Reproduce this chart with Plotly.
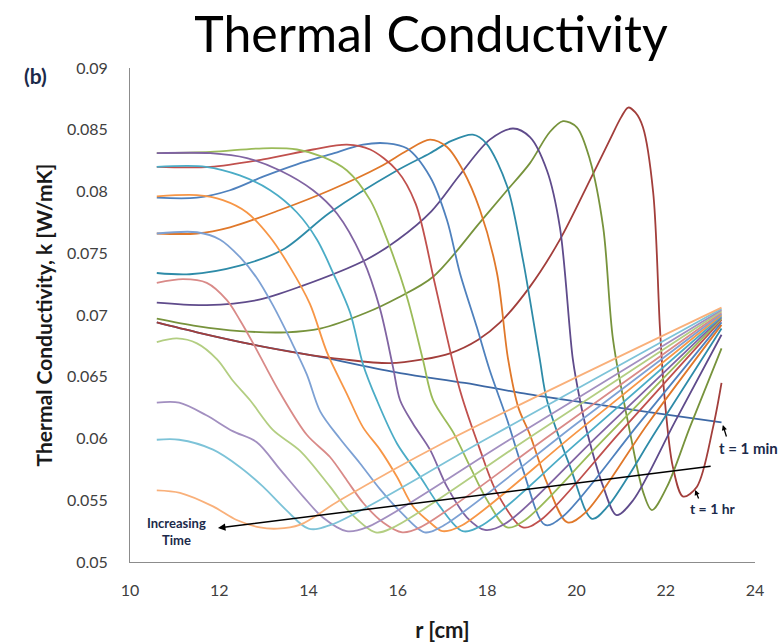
import plotly.graph_objects as go

# ---------------- data ----------------
r1 = [10.6, 11.5, 12.76, 14.26, 16.05, 17.5, 18.74, 20.0, 21.5, 23.25]
k1 = [0.0694, 0.0686, 0.0676, 0.0666, 0.0653, 0.0645, 0.0637, 0.0630, 0.0622, 0.0613]

r2 = [10.6, 11.5, 12.76, 13.81, 14.8, 15.82, 16.56, 17.17, 17.8, 18.29, 18.96, 19.63, 20.3, 20.75, 21.0, 21.16, 21.32, 21.49, 21.72, 21.87, 21.97, 22.16, 22.39, 22.7, 23.06, 23.25]
k2 = [0.0694, 0.0686, 0.0676, 0.0669, 0.0664, 0.0661, 0.0664, 0.0669, 0.0680, 0.0694, 0.0723, 0.0761, 0.0809, 0.0842, 0.0860, 0.0868, 0.0864, 0.0852, 0.0799, 0.0690, 0.0635, 0.0577, 0.0553, 0.0561, 0.0609, 0.0645]

r3 = [10.6, 11.5, 12.46, 13.5, 14.26, 15.3, 16.0, 16.79, 17.84, 18.4, 18.96, 19.4, 19.7, 20.01, 20.3, 20.6, 20.82, 21.2, 21.5, 21.69, 22.03, 22.54, 23.25]
k3 = [0.0697, 0.0691, 0.0687, 0.0686, 0.0689, 0.0702, 0.0714, 0.0731, 0.0775, 0.0799, 0.0823, 0.0848, 0.0857, 0.0852, 0.0826, 0.0771, 0.0680, 0.0605, 0.0556, 0.0542, 0.0561, 0.0609, 0.0673]

r4 = [10.6, 11.72, 12.84, 13.81, 15.3, 16.0, 16.75, 17.4, 18.06, 18.58, 18.96, 19.34, 19.63, 19.92, 20.08, 20.24, 20.6, 20.9, 21.27, 22.2, 23.25]
k4 = [0.0710, 0.0708, 0.0712, 0.0723, 0.0745, 0.0761, 0.0784, 0.0814, 0.0842, 0.0851, 0.0844, 0.0817, 0.0771, 0.0664, 0.0631, 0.0605, 0.0561, 0.0538, 0.0550, 0.0613, 0.0684]

r5 = [10.6, 11.34, 12.46, 13.43, 14.48, 15.98, 16.72, 17.2, 17.68, 17.98, 18.45, 18.8, 18.96, 19.18, 19.34, 19.86, 20.35, 20.7, 21.8, 23.25]
k5 = [0.0734, 0.0733, 0.0740, 0.0753, 0.0783, 0.0817, 0.0831, 0.0841, 0.0846, 0.0839, 0.0804, 0.0745, 0.0712, 0.0664, 0.0631, 0.0577, 0.0535, 0.0545, 0.0607, 0.0689]

r6 = [10.6, 11.5, 12.24, 13.36, 14.48, 15.6, 16.2, 16.72, 17.1, 17.46, 17.84, 18.22, 18.47, 18.7, 18.96, 19.34, 19.8, 20.2, 21.6, 23.25]
k6 = [0.0766, 0.0766, 0.0771, 0.0785, 0.0801, 0.0820, 0.0833, 0.0842, 0.0836, 0.0817, 0.0785, 0.0734, 0.0664, 0.0625, 0.0603, 0.0564, 0.0532, 0.0540, 0.0612, 0.0692]

r7 = [10.6, 11.5, 12.24, 12.98, 13.74, 14.48, 15.22, 15.76, 16.2, 16.72, 17.1, 17.39, 17.77, 18.06, 18.45, 18.8, 19.3, 19.7, 21.4, 23.25]
k7 = [0.0795, 0.0795, 0.0801, 0.0812, 0.0822, 0.0830, 0.0838, 0.0839, 0.0835, 0.0812, 0.0777, 0.0734, 0.0690, 0.0655, 0.0615, 0.0575, 0.0530, 0.0537, 0.0612, 0.0694]

r8 = [10.6, 11.8, 12.98, 14.1, 14.86, 15.38, 15.98, 16.4, 16.8, 17.05, 17.4, 17.84, 18.22, 18.8, 19.2, 21.0, 23.25]
k8 = [0.0820, 0.0820, 0.0826, 0.0834, 0.0838, 0.0834, 0.0817, 0.0790, 0.0730, 0.0690, 0.0638, 0.0591, 0.0556, 0.0528, 0.0534, 0.0606, 0.0696]

r9 = [10.6, 11.8, 12.98, 13.74, 14.32, 14.86, 15.38, 15.76, 16.2, 16.56, 16.79, 17.24, 17.62, 18.0, 18.45, 18.85, 20.5, 23.25]
k9 = [0.0831, 0.0832, 0.0835, 0.0834, 0.0828, 0.0817, 0.0793, 0.0761, 0.0715, 0.0664, 0.0631, 0.0605, 0.0577, 0.0550, 0.0528, 0.0534, 0.0595, 0.0697]

r10 = [10.6, 11.8, 12.62, 13.36, 14.1, 14.64, 15.22, 15.6, 15.89, 16.05, 16.34, 16.72, 17.1, 17.55, 17.95, 18.4, 20.5, 23.25]
k10 = [0.0831, 0.0831, 0.0827, 0.0817, 0.0801, 0.0782, 0.0745, 0.0705, 0.0658, 0.0631, 0.0612, 0.0591, 0.0561, 0.0536, 0.0526, 0.0531, 0.0603, 0.0698]

r11 = [10.6, 11.7, 12.46, 13.14, 13.74, 14.19, 14.55, 14.93, 15.22, 15.53, 15.98, 16.5, 16.94, 17.45, 17.9, 20.0, 23.25]
k11 = [0.0820, 0.0820, 0.0813, 0.0801, 0.0783, 0.0761, 0.0734, 0.0702, 0.0660, 0.0631, 0.0596, 0.0569, 0.0545, 0.0525, 0.0530, 0.0596, 0.0699]

r12 = [10.6, 11.5, 12.08, 12.62, 13.14, 13.58, 14.03, 14.41, 14.86, 15.22, 15.6, 15.98, 16.34, 16.72, 17.0, 17.45, 20.0, 23.25]
k12 = [0.0796, 0.0797, 0.0793, 0.0783, 0.0763, 0.0739, 0.0709, 0.0670, 0.0636, 0.0609, 0.0591, 0.0569, 0.0545, 0.0532, 0.0525, 0.0530, 0.0605, 0.0700]

r13 = [10.6, 11.5, 12.02, 12.46, 12.84, 13.2, 13.58, 13.96, 14.26, 14.7, 15.15, 15.6, 16.05, 16.6, 17.0, 20.0, 23.25]
k13 = [0.0766, 0.0767, 0.0761, 0.0747, 0.0730, 0.0708, 0.0681, 0.0652, 0.0622, 0.0600, 0.0580, 0.0559, 0.0541, 0.0524, 0.0529, 0.0612, 0.0701]

r14 = [10.6, 11.19, 11.72, 12.17, 12.46, 12.76, 13.07, 13.36, 13.96, 14.48, 14.86, 15.22, 15.67, 16.1, 16.5, 19.5, 23.25]
k14 = [0.0726, 0.0729, 0.0726, 0.0712, 0.0696, 0.0677, 0.0656, 0.0637, 0.0603, 0.0585, 0.0566, 0.0548, 0.0532, 0.0524, 0.0528, 0.0605, 0.0702]

r15 = [10.6, 11.05, 11.5, 11.95, 12.3, 12.69, 13.2, 13.81, 14.48, 14.93, 15.5, 15.9, 19.0, 23.25]
k15 = [0.0678, 0.0681, 0.0677, 0.0664, 0.0647, 0.0631, 0.0607, 0.0590, 0.0561, 0.0540, 0.0524, 0.0528, 0.0602, 0.0703]

r16 = [10.6, 11.1, 11.7, 12.3, 12.84, 13.36, 13.88, 14.32, 14.85, 15.3, 18.5, 23.25]
k16 = [0.0629, 0.0629, 0.0619, 0.0606, 0.0597, 0.0575, 0.0553, 0.0536, 0.0525, 0.0528, 0.0599, 0.0704]

r17 = [10.6, 11.1, 11.86, 12.46, 12.98, 13.5, 14.0, 14.5, 18.0, 23.25]
k17 = [0.0599, 0.0599, 0.0591, 0.0577, 0.0561, 0.0542, 0.0527, 0.0530, 0.0600, 0.0705]

r18 = [10.6, 11.12, 11.86, 12.39, 12.91, 13.3, 13.8, 14.7, 16.94, 23.25]
k18 = [0.0558, 0.0556, 0.0545, 0.0534, 0.0528, 0.0527, 0.0530, 0.0550, 0.0595, 0.0706]

series_r = [r1, r2, r3, r4, r5, r6, r7, r8, r9, r10, r11, r12, r13, r14, r15, r16, r17, r18]
series_k = [k1, k2, k3, k4, k5, k6, k7, k8, k9, k10, k11, k12, k13, k14, k15, k16, k17, k18]

colors = [
    "#3D68A5", "#A23E3B", "#77933C", "#5F4B8B", "#2E8BA8", "#E0782A",
    "#4F81BD", "#C0504D", "#9BBB59", "#8064A2", "#4BACC6", "#F79646",
    "#7DA1D4", "#D98A88", "#B3CE82", "#A28FC0", "#7DC3D8", "#F9B07A",
]

x_ticks = [10, 12, 14, 16, 18, 20, 22, 24]
y_ticks = [0.05, 0.055, 0.06, 0.065, 0.07, 0.075, 0.08, 0.085, 0.09]
y_ticktext = ["0.05", "0.055", "0.06", "0.065", "0.07", "0.075", "0.08", "0.085", "0.09"]

# ---------------- figure ----------------
fig = go.Figure()
for rr, kk, c in zip(series_r, series_k, colors):
    fig.add_trace(go.Scatter(
        x=rr, y=kk, mode="lines",
        line=dict(color=c, width=1.8, shape="spline", smoothing=0.9),
        showlegend=False, hoverinfo="skip",
    ))

FONT = "Lato"
fig.update_layout(
    width=783, height=644,
    margin=dict(l=130, r=28, t=68, b=82),
    paper_bgcolor="white", plot_bgcolor="white",
    font=dict(family=FONT, color="#404040"),
    title=dict(text="Thermal Conductivity", x=431 / 783, xanchor="center",
               y=1 - 34 / 644, yanchor="middle",
               font=dict(family=FONT, size=50, color="#000000")),
)
fig.update_xaxes(
    range=[10, 24], tickvals=x_ticks, showgrid=False, zeroline=False, automargin=False,
    showline=True, linecolor="#8C8C8C", linewidth=1, ticks="",
    tickfont=dict(family=FONT, size=16, color="#404040"), ticklabelstandoff=14,
    title=dict(text="<b>r [cm]</b>", font=dict(family=FONT, size=22, color="#1a1a1a"), standoff=24),
)
fig.update_yaxes(
    range=[0.05, 0.09], tickvals=y_ticks, ticktext=y_ticktext, showgrid=False, zeroline=False,
    automargin=False,
    showline=True, linecolor="#8C8C8C", linewidth=1, ticks="",
    tickfont=dict(family=FONT, size=16, color="#404040"), ticklabelstandoff=18,
    title=dict(text="<b>Thermal Conductivity, k [W/mK]</b>", font=dict(family=FONT, size=21, color="#1a1a1a"), standoff=8),
)

# annotations
fig.add_annotation(text="<b>(b)</b>", xref="paper", yref="paper", x=-0.152, y=0.984,
                   xanchor="center", yanchor="middle",
                   showarrow=False, font=dict(family=FONT, size=21, color="#1c2a4a"))
fig.add_annotation(text="<b>Increasing<br>Time</b>", x=11.05, y=0.05251, xref="x", yref="y",
                   xanchor="center", yanchor="middle",
                   showarrow=False, font=dict(family=FONT, size=13, color="#1c2a4a"))
fig.add_annotation(text="", x=11.97, y=0.05275, ax=23.04, ay=0.05777, axref="x", ayref="y",
                   xref="x", yref="y", showarrow=True, arrowhead=2, arrowsize=1,
                   arrowwidth=1.5, arrowcolor="#000000")
fig.add_annotation(text="", x=23.28, y=0.06109, ax=23.37, ay=0.06004, axref="x", ayref="y",
                   xref="x", yref="y", showarrow=True, arrowhead=2, arrowsize=0.8,
                   arrowwidth=1.3, arrowcolor="#000000")
fig.add_annotation(text="<b>t = 1 min</b>", x=23.15, y=0.05923, xref="x", yref="y",
                   xanchor="left", yanchor="middle", showarrow=False,
                   font=dict(family=FONT, size=15, color="#1c2a4a"))
fig.add_annotation(text="", x=22.66, y=0.05583, ax=22.75, ay=0.05502, axref="x", ayref="y",
                   xref="x", yref="y", showarrow=True, arrowhead=2, arrowsize=0.8,
                   arrowwidth=1.3, arrowcolor="#000000")
fig.add_annotation(text="<b>t = 1 hr</b>", x=23.06, y=0.05437, xref="x", yref="y",
                   xanchor="center", yanchor="middle", showarrow=False,
                   font=dict(family=FONT, size=14, color="#1c2a4a"))

fig.write_html("out.html")
